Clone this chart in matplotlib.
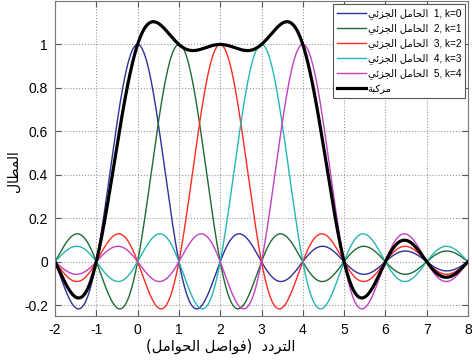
import numpy as np
import matplotlib
matplotlib.use('Agg')
import matplotlib.pyplot as plt

# ---- data ----
subcarrier_index = [1, 2, 3, 4, 5]
subcarrier_k = [0, 1, 2, 3, 4]          # centre frequency (in subcarrier spacings)
subcarrier_colors = ['#2f2f9c', '#1f6a32', '#ff2a1f', '#25b5b5', '#c23fc2']
x_ticks = [-2, -1, 0, 1, 2, 3, 4, 5, 6, 7, 8]
y_ticks = [-0.2, 0, 0.2, 0.4, 0.6, 0.8, 1]
y_tick_labels = ['-0.2', '0', '0.2', '0.4', '0.6', '0.8', '1']
f_range = (-2, 8)
y_range = (-0.25, 1.2)

# Arabic strings written with presentation forms (logical order), shown in visual order
AR_SUB = '\uFE8D\uFEDF\uFEA4\uFE8E\uFEE3\uFEDE \uFE8D\uFEDF\uFEA0\uFEB0\uFE8B\uFEF2'   # الحامل الجزئي
AR_COMP = '\uFEE3\uFEAE\uFEDB\uFE92\uFE94'                                          # مركبة
AR_AMP = '\uFE8D\uFEDF\uFEE4\uFEC4\uFE8E\uFEDD'                                     # المطال
AR_FREQ = ('\uFE8D\uFEDF\uFE98\uFEAE\uFEA9\uFEA9  (\uFED3\uFEEE\uFE8D\uFEBB\uFEDE '
           '\uFE8D\uFEDF\uFEA4\uFEEE\uFE8D\uFEE3\uFEDE)')                           # التردد (فواصل الحوامل)


def vis(s):
    return s[::-1].translate(str.maketrans('()', ')('))


plt.rcParams['font.family'] = ['Liberation Sans', 'DejaVu Sans']

fig = plt.figure(figsize=(4.72, 3.63), dpi=100)
ax = fig.add_axes([55 / 472, 1 - 316 / 363, 413 / 472, 315 / 363])

f = np.linspace(f_range[0], f_range[1], 2001)
curves = []
for idx, k, c in zip(subcarrier_index, subcarrier_k, subcarrier_colors):
    y = np.sinc(f - k)
    curves.append(y)
    ax.plot(f, y, color=c, lw=1.0, label=f'{vis(AR_SUB)}  {idx}, k={k}')
ax.plot(f, np.sum(curves, axis=0), color='black', lw=2.3, label=vis(AR_COMP))

ax.set_xlim(*f_range)
ax.set_ylim(*y_range)
ax.set_xticks(x_ticks)
ax.set_xticklabels([str(t) for t in x_ticks])
ax.set_yticks(y_ticks)
ax.set_yticklabels(y_tick_labels)
ax.tick_params(direction='in', top=True, right=True, length=4, width=0.8,
               labelsize=10, pad=5, color='#555555')
ax.grid(True, ls=':', color='#9a9a9a', lw=0.8)
for sp in ax.spines.values():
    sp.set_color('#777777')
    sp.set_linewidth(0.8)

ax.set_ylabel(vis(AR_AMP), fontsize=10, family=['DejaVu Sans'])
ax.yaxis.set_label_coords(-0.083, 0.46)
ax.set_xlabel(vis(AR_FREQ), fontsize=10.5, family=['DejaVu Sans'])
ax.xaxis.set_label_coords(0.40, -0.072)

leg = ax.legend(loc='upper right', fontsize=7.2, handlelength=2.9, handletextpad=0.2,
                labelspacing=0.42, borderpad=0.4, borderaxespad=0.3, fancybox=False,
                framealpha=1, edgecolor='#555555')
leg.get_frame().set_linewidth(0.8)

fig.savefig('out.png', dpi=100)
